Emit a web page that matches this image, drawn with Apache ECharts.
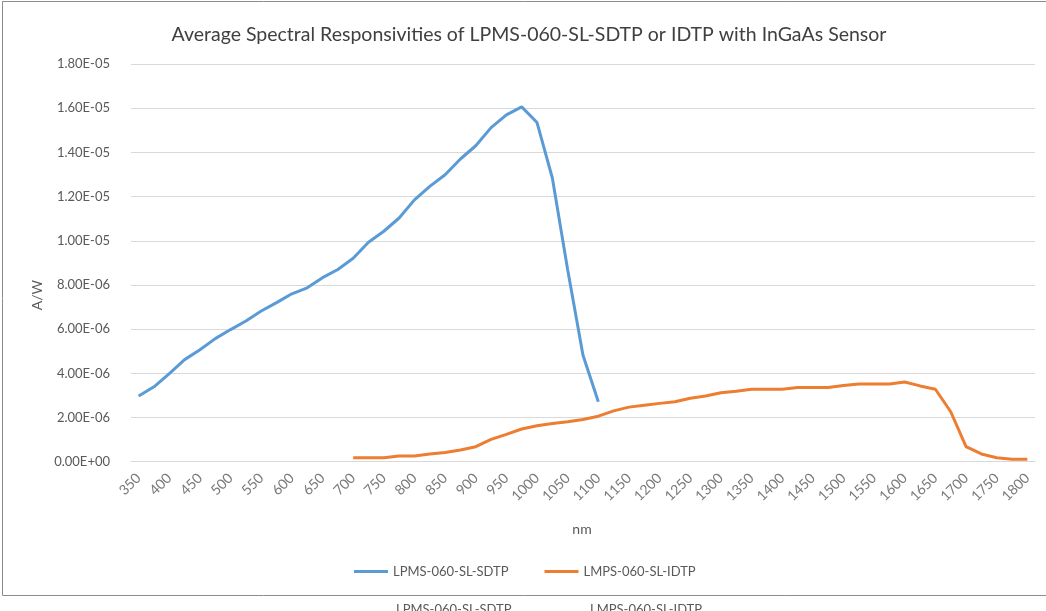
<!DOCTYPE html>
<html>
<head>
<meta charset="utf-8">
<script src="https://cdn.jsdelivr.net/npm/echarts@6/dist/echarts.min.js"></script>
<style>
html,body{margin:0;padding:0;background:#fff;}
#chart{width:1046px;height:611px;}
</style>
</head>
<body>
<div id="chart"></div>
<script>
var categories = ['350','375','400','425','450','475','500','525','550','575','600','625','650','675','700','725','750','775','800','825','850','875','900','925','950','975','1000','1025','1050','1075','1100','1125','1150','1175','1200','1225','1250','1275','1300','1325','1350','1375','1400','1425','1450','1475','1500','1525','1550','1575','1600','1625','1650','1675','1700','1725','1750','1775','1800'];

// LPMS-060-SL-SDTP, 350..1100 nm (A/W)
var sdtpStart = '350';
var sdtpValues = [2.97e-6,3.39e-6,3.99e-6,4.62e-6,5.07e-6,5.57e-6,5.98e-6,6.37e-6,6.82e-6,7.20e-6,7.60e-6,7.87e-6,8.33e-6,8.70e-6,9.21e-6,9.93e-6,1.043e-5,1.103e-5,1.185e-5,1.246e-5,1.299e-5,1.370e-5,1.430e-5,1.512e-5,1.570e-5,1.606e-5,1.535e-5,1.284e-5,8.69e-6,4.82e-6,2.71e-6];

// LMPS-060-SL-IDTP, 700..1800 nm (A/W)
var idtpStart = '700';
var idtpValues = [1.8e-7,1.8e-7,1.8e-7,2.6e-7,2.6e-7,3.5e-7,4.2e-7,5.3e-7,6.8e-7,1.01e-6,1.24e-6,1.48e-6,1.63e-6,1.73e-6,1.81e-6,1.91e-6,2.06e-6,2.30e-6,2.47e-6,2.56e-6,2.64e-6,2.71e-6,2.87e-6,2.97e-6,3.12e-6,3.19e-6,3.28e-6,3.28e-6,3.28e-6,3.36e-6,3.36e-6,3.36e-6,3.45e-6,3.52e-6,3.52e-6,3.52e-6,3.61e-6,3.43e-6,3.28e-6,2.26e-6,6.8e-7,3.5e-7,1.8e-7,1.1e-7,1.1e-7];

var seriesNames = ['LPMS-060-SL-SDTP','LMPS-060-SL-IDTP'];
var titleText = 'Average Spectral Responsivities of LPMS-060-SL-SDTP or IDTP with InGaAs Sensor';

function pad(values, start){
  var out = categories.map(function(){return null;});
  var s = categories.indexOf(start);
  for (var i=0;i<values.length;i++) out[s+i] = values[i];
  return out;
}

function sci(v){
  if (v === 0) return '0.00E+00';
  var e = Math.floor(Math.log10(Math.abs(v)) + 1e-9);
  var m = v / Math.pow(10, e);
  if (Math.abs(m) >= 9.995) { m /= 10; e += 1; }
  var es = Math.abs(e) < 10 ? '0' + Math.abs(e) : '' + Math.abs(e);
  return m.toFixed(2) + 'E' + (e < 0 ? '-' : '+') + es;
}

var FONT = 'Lato';
var chart = echarts.init(document.getElementById('chart'), null, {renderer:'canvas'});
chart.setOption({
  animation:false,
  backgroundColor:'#ffffff',
  color:['#5B9BD5','#ED7D31'],
  title:{
    text:titleText, left:524, top:20, textAlign:'center',
    textStyle:{fontFamily:FONT, fontSize:19.5, fontWeight:'normal', color:'#404040'}
  },
  legend:{
    left:349, top:560, itemWidth:34, itemHeight:3, itemGap:36, icon:'rect',
    textStyle:{fontFamily:FONT, fontSize:13, color:'#595959'},
    data:seriesNames
  },
  grid:{left:131, right:11, top:64, bottom:149.3, containLabel:false},
  xAxis:{
    type:'category', data:categories, boundaryGap:true,
    axisLine:{lineStyle:{color:'#d9d9d9', width:1}},
    axisTick:{show:false},
    axisLabel:{interval:1, rotate:45, margin:14, fontFamily:FONT, fontSize:14, color:'#7a7a7a'}
  },
  yAxis:{
    type:'value', min:0, max:1.8e-5, interval:2e-6,
    axisLine:{show:false}, axisTick:{show:false},
    splitLine:{lineStyle:{color:'#d9d9d9', width:1}},
    axisLabel:{margin:21, fontFamily:FONT, fontSize:13, color:'#595959', formatter:sci}
  },
  graphic:[
    {type:'rect', shape:{x:2.5, y:1.5, width:1060, height:594}, style:{fill:'none', stroke:'#8c8c8c', lineWidth:1}, silent:true},
    {type:'text', left:30, top:280, rotation:Math.PI/2, style:{text:'A/W', fontFamily:FONT, fontSize:14, fill:'#595959'}},
    {type:'text', x:582, y:529, style:{text:'nm', fontFamily:FONT, fontSize:14, fill:'#595959', textAlign:'center', textVerticalAlign:'middle'}},
    {type:'text', x:396, y:603, style:{text:seriesNames[0], fontFamily:FONT, fontSize:13, fill:'#595959', textVerticalAlign:'top'}},
    {type:'text', x:590, y:603, style:{text:seriesNames[1], fontFamily:FONT, fontSize:13, fill:'#595959', textVerticalAlign:'top'}}
  ],
  series:[
    {name:seriesNames[0], type:'line', data:pad(sdtpValues, sdtpStart), showSymbol:false, symbol:'none', connectNulls:false,
     lineStyle:{width:3, color:'#5B9BD5'}, itemStyle:{color:'#5B9BD5'}},
    {name:seriesNames[1], type:'line', data:pad(idtpValues, idtpStart), showSymbol:false, symbol:'none', connectNulls:false,
     lineStyle:{width:3, color:'#ED7D31'}, itemStyle:{color:'#ED7D31'}}
  ]
});
</script>
</body>
</html>
